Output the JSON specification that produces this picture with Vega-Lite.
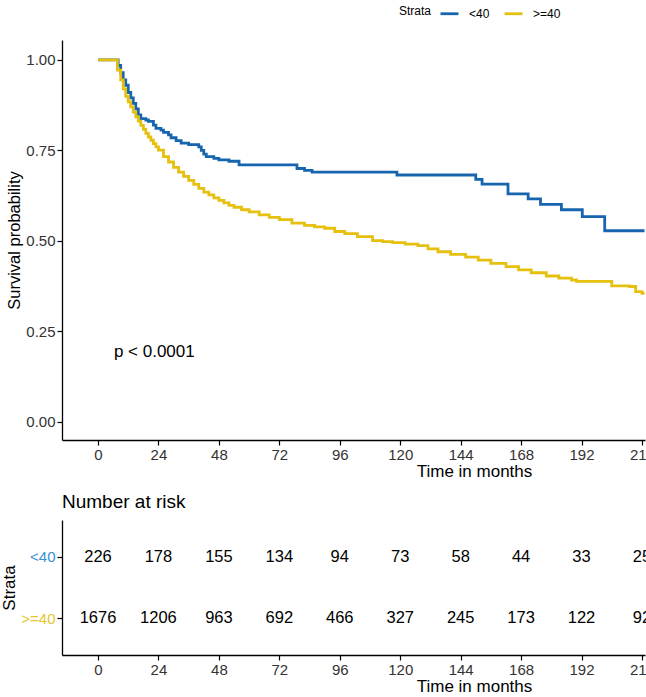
{
  "$schema": "https://vega.github.io/schema/vega-lite/v6.json",
  "padding": {"left": 0, "top": 3, "right": 0, "bottom": 0},
  "background": "white",
  "bounds": "flush",
  "spacing": 80,
  "config": {
    "font": "Liberation Sans",
    "view": {"stroke": null},
    "axis": {"grid": false, "domainColor": "#000000", "domainWidth": 1.3, "tickColor": "#000000", "tickWidth": 1.2, "tickSize": 5, "labelColor": "#333333", "labelFontSize": 15, "labelFont": "Liberation Sans", "titleFont": "Liberation Sans", "titleFontSize": 17, "titleFontWeight": "normal", "titleColor": "#000000", "labelPadding": 2},
    "legend": {"labelFont": "Liberation Sans", "titleFont": "Liberation Sans"},
    "title": {"font": "Liberation Sans"}
  },
  "datasets": {
    "km": [
      {"strata": "<40", "time": 0, "surv": 1.0},
      {"strata": "<40", "time": 7, "surv": 1.0},
      {"strata": "<40", "time": 8, "surv": 0.985},
      {"strata": "<40", "time": 9, "surv": 0.965},
      {"strata": "<40", "time": 10, "surv": 0.945},
      {"strata": "<40", "time": 11, "surv": 0.93},
      {"strata": "<40", "time": 12, "surv": 0.91},
      {"strata": "<40", "time": 13, "surv": 0.895},
      {"strata": "<40", "time": 14, "surv": 0.88},
      {"strata": "<40", "time": 15, "surv": 0.865},
      {"strata": "<40", "time": 16, "surv": 0.848},
      {"strata": "<40", "time": 17, "surv": 0.838},
      {"strata": "<40", "time": 19, "surv": 0.834},
      {"strata": "<40", "time": 20, "surv": 0.83},
      {"strata": "<40", "time": 22, "surv": 0.82},
      {"strata": "<40", "time": 23, "surv": 0.811},
      {"strata": "<40", "time": 25, "surv": 0.806},
      {"strata": "<40", "time": 26, "surv": 0.8},
      {"strata": "<40", "time": 28, "surv": 0.793},
      {"strata": "<40", "time": 29, "surv": 0.785},
      {"strata": "<40", "time": 31, "surv": 0.777},
      {"strata": "<40", "time": 33, "surv": 0.77},
      {"strata": "<40", "time": 36, "surv": 0.766},
      {"strata": "<40", "time": 40, "surv": 0.76},
      {"strata": "<40", "time": 41, "surv": 0.75},
      {"strata": "<40", "time": 42, "surv": 0.74},
      {"strata": "<40", "time": 43, "surv": 0.733},
      {"strata": "<40", "time": 46, "surv": 0.728},
      {"strata": "<40", "time": 48, "surv": 0.724},
      {"strata": "<40", "time": 52, "surv": 0.72},
      {"strata": "<40", "time": 56, "surv": 0.71},
      {"strata": "<40", "time": 79, "surv": 0.70},
      {"strata": "<40", "time": 82, "surv": 0.695},
      {"strata": "<40", "time": 85, "surv": 0.69},
      {"strata": "<40", "time": 118.7, "surv": 0.682},
      {"strata": "<40", "time": 150, "surv": 0.67},
      {"strata": "<40", "time": 152.5, "surv": 0.657},
      {"strata": "<40", "time": 162.8, "surv": 0.63},
      {"strata": "<40", "time": 170.8, "surv": 0.616},
      {"strata": "<40", "time": 175.7, "surv": 0.601},
      {"strata": "<40", "time": 184, "surv": 0.586},
      {"strata": "<40", "time": 192.3, "surv": 0.567},
      {"strata": "<40", "time": 201.2, "surv": 0.528},
      {"strata": "<40", "time": 217, "surv": 0.528},
      {"strata": ">=40", "time": 0, "surv": 1.0},
      {"strata": ">=40", "time": 7, "surv": 1.0},
      {"strata": ">=40", "time": 7.7, "surv": 0.972},
      {"strata": ">=40", "time": 9, "surv": 0.945},
      {"strata": ">=40", "time": 10, "surv": 0.92},
      {"strata": ">=40", "time": 11, "surv": 0.899},
      {"strata": ">=40", "time": 12, "surv": 0.884},
      {"strata": ">=40", "time": 13, "surv": 0.87},
      {"strata": ">=40", "time": 14, "surv": 0.856},
      {"strata": ">=40", "time": 15, "surv": 0.843},
      {"strata": ">=40", "time": 16, "surv": 0.831},
      {"strata": ">=40", "time": 17, "surv": 0.819},
      {"strata": ">=40", "time": 18, "surv": 0.808},
      {"strata": ">=40", "time": 19, "surv": 0.797},
      {"strata": ">=40", "time": 20, "surv": 0.787},
      {"strata": ">=40", "time": 21, "surv": 0.778},
      {"strata": ">=40", "time": 22, "surv": 0.769},
      {"strata": ">=40", "time": 23, "surv": 0.76},
      {"strata": ">=40", "time": 24, "surv": 0.751},
      {"strata": ">=40", "time": 26, "surv": 0.733},
      {"strata": ">=40", "time": 28, "surv": 0.718},
      {"strata": ">=40", "time": 30, "surv": 0.703},
      {"strata": ">=40", "time": 32, "surv": 0.69},
      {"strata": ">=40", "time": 34, "surv": 0.678},
      {"strata": ">=40", "time": 36, "surv": 0.667},
      {"strata": ">=40", "time": 38, "surv": 0.656},
      {"strata": ">=40", "time": 40, "surv": 0.645},
      {"strata": ">=40", "time": 42, "surv": 0.635},
      {"strata": ">=40", "time": 44, "surv": 0.627},
      {"strata": ">=40", "time": 46, "surv": 0.619},
      {"strata": ">=40", "time": 48, "surv": 0.612},
      {"strata": ">=40", "time": 50, "surv": 0.605},
      {"strata": ">=40", "time": 52, "surv": 0.598},
      {"strata": ">=40", "time": 54, "surv": 0.593},
      {"strata": ">=40", "time": 57, "surv": 0.586},
      {"strata": ">=40", "time": 60, "surv": 0.58},
      {"strata": ">=40", "time": 64, "surv": 0.572},
      {"strata": ">=40", "time": 68, "surv": 0.565},
      {"strata": ">=40", "time": 72, "surv": 0.559},
      {"strata": ">=40", "time": 77, "surv": 0.549},
      {"strata": ">=40", "time": 82, "surv": 0.543},
      {"strata": ">=40", "time": 86, "surv": 0.539},
      {"strata": ">=40", "time": 90, "surv": 0.535},
      {"strata": ">=40", "time": 94, "surv": 0.526},
      {"strata": ">=40", "time": 98, "surv": 0.52},
      {"strata": ">=40", "time": 103, "surv": 0.512},
      {"strata": ">=40", "time": 109, "surv": 0.501},
      {"strata": ">=40", "time": 113, "surv": 0.498},
      {"strata": ">=40", "time": 117, "surv": 0.495},
      {"strata": ">=40", "time": 122, "surv": 0.491},
      {"strata": ">=40", "time": 127, "surv": 0.487},
      {"strata": ">=40", "time": 131, "surv": 0.478},
      {"strata": ">=40", "time": 135, "surv": 0.47},
      {"strata": ">=40", "time": 140, "surv": 0.463},
      {"strata": ">=40", "time": 146, "surv": 0.455},
      {"strata": ">=40", "time": 151, "surv": 0.447},
      {"strata": ">=40", "time": 156, "surv": 0.438},
      {"strata": ">=40", "time": 162, "surv": 0.429},
      {"strata": ">=40", "time": 167, "surv": 0.42},
      {"strata": ">=40", "time": 172, "surv": 0.412},
      {"strata": ">=40", "time": 178, "surv": 0.403},
      {"strata": ">=40", "time": 183, "surv": 0.397},
      {"strata": ">=40", "time": 188, "surv": 0.392},
      {"strata": ">=40", "time": 190, "surv": 0.388},
      {"strata": ">=40", "time": 204, "surv": 0.376},
      {"strata": ">=40", "time": 211, "surv": 0.374},
      {"strata": ">=40", "time": 213.5, "surv": 0.36},
      {"strata": ">=40", "time": 216, "surv": 0.355},
      {"strata": ">=40", "time": 217, "surv": 0.355}
    ],
    "risk": [
      {"strata": "<40", "time": 0, "n": 226},
      {"strata": "<40", "time": 24, "n": 178},
      {"strata": "<40", "time": 48, "n": 155},
      {"strata": "<40", "time": 72, "n": 134},
      {"strata": "<40", "time": 96, "n": 94},
      {"strata": "<40", "time": 120, "n": 73},
      {"strata": "<40", "time": 144, "n": 58},
      {"strata": "<40", "time": 168, "n": 44},
      {"strata": "<40", "time": 192, "n": 33},
      {"strata": "<40", "time": 216, "n": 25},
      {"strata": ">=40", "time": 0, "n": 1676},
      {"strata": ">=40", "time": 24, "n": 1206},
      {"strata": ">=40", "time": 48, "n": 963},
      {"strata": ">=40", "time": 72, "n": 692},
      {"strata": ">=40", "time": 96, "n": 466},
      {"strata": ">=40", "time": 120, "n": 327},
      {"strata": ">=40", "time": 144, "n": 245},
      {"strata": ">=40", "time": 168, "n": 173},
      {"strata": ">=40", "time": 192, "n": 122},
      {"strata": ">=40", "time": 216, "n": 92}
    ],
    "pval": [{"t": 6.3, "s": 0.193, "label": "p < 0.0001"}]
  },
  "vconcat": [
    {
      "width": 583,
      "height": 400,
      "layer": [
        {
          "data": {"name": "km"},
          "mark": {"type": "line", "interpolate": "step-after", "strokeWidth": 2.8},
          "encoding": {
            "x": {"field": "time", "type": "quantitative", "scale": {"domain": [-14.3, 217.2], "nice": false, "zero": false},
              "axis": {"values": [0, 24, 48, 72, 96, 120, 144, 168, 192, 216], "title": "Time in months", "titleX": 412, "titleAlign": "center", "labelFlush": false, "labelOverlap": false, "titlePadding": 1}},
            "y": {"field": "surv", "type": "quantitative", "scale": {"domain": [-0.05, 1.055], "nice": false, "zero": false},
              "axis": {"values": [0, 0.25, 0.5, 0.75, 1], "format": ".2f", "title": "Survival probability", "titlePadding": 3, "titleFontSize": 16.5}},
            "color": {"field": "strata", "type": "nominal", "scale": {"domain": ["<40", ">=40"], "range": ["#1665ae", "#e5c00f"]},
              "legend": {"orient": "none", "direction": "horizontal", "legendX": 337, "legendY": -37, "title": "Strata", "titleOrient": "left", "titleFontSize": 12, "titleFontWeight": "normal", "titleColor": "#000000", "labelFontSize": 12, "labelColor": "#000000", "symbolType": "stroke", "symbolSize": 324, "symbolStrokeWidth": 2.8, "labelOffset": 9, "columnPadding": 8, "titlePadding": 7}}
          }
        },
        {
          "data": {"name": "pval"},
          "mark": {"type": "text", "align": "left", "baseline": "middle", "fontSize": 17, "color": "#000000"},
          "encoding": {
            "x": {"field": "t", "type": "quantitative"},
            "y": {"field": "s", "type": "quantitative"},
            "text": {"field": "label"}
          }
        }
      ]
    },
    {
      "width": 583,
      "height": 135,
      "title": {"text": "Number at risk", "anchor": "start", "frame": "group", "fontSize": 19, "fontWeight": "normal", "color": "#000000", "offset": 8},
      "data": {"name": "risk"},
      "mark": {"type": "text", "fontSize": 16.5, "color": "#000000"},
      "encoding": {
        "x": {"field": "time", "type": "quantitative", "scale": {"domain": [-14.3, 217.2], "nice": false, "zero": false},
          "axis": {"values": [0, 24, 48, 72, 96, 120, 144, 168, 192, 216], "title": "Time in months", "titleX": 412, "titleAlign": "center", "labelFlush": false, "labelOverlap": false, "titlePadding": 1}},
        "y": {"field": "strata", "type": "ordinal", "scale": {"type": "point", "domain": ["<40", ">=40"], "padding": 0.6},
          "axis": {"title": "Strata", "titlePadding": 2, "labelColor": {"condition": {"test": "datum.value == '<40'", "value": "#3d8fd1"}, "value": "#e6c62a"}}},
        "text": {"field": "n", "type": "quantitative"}
      }
    }
  ]
}
